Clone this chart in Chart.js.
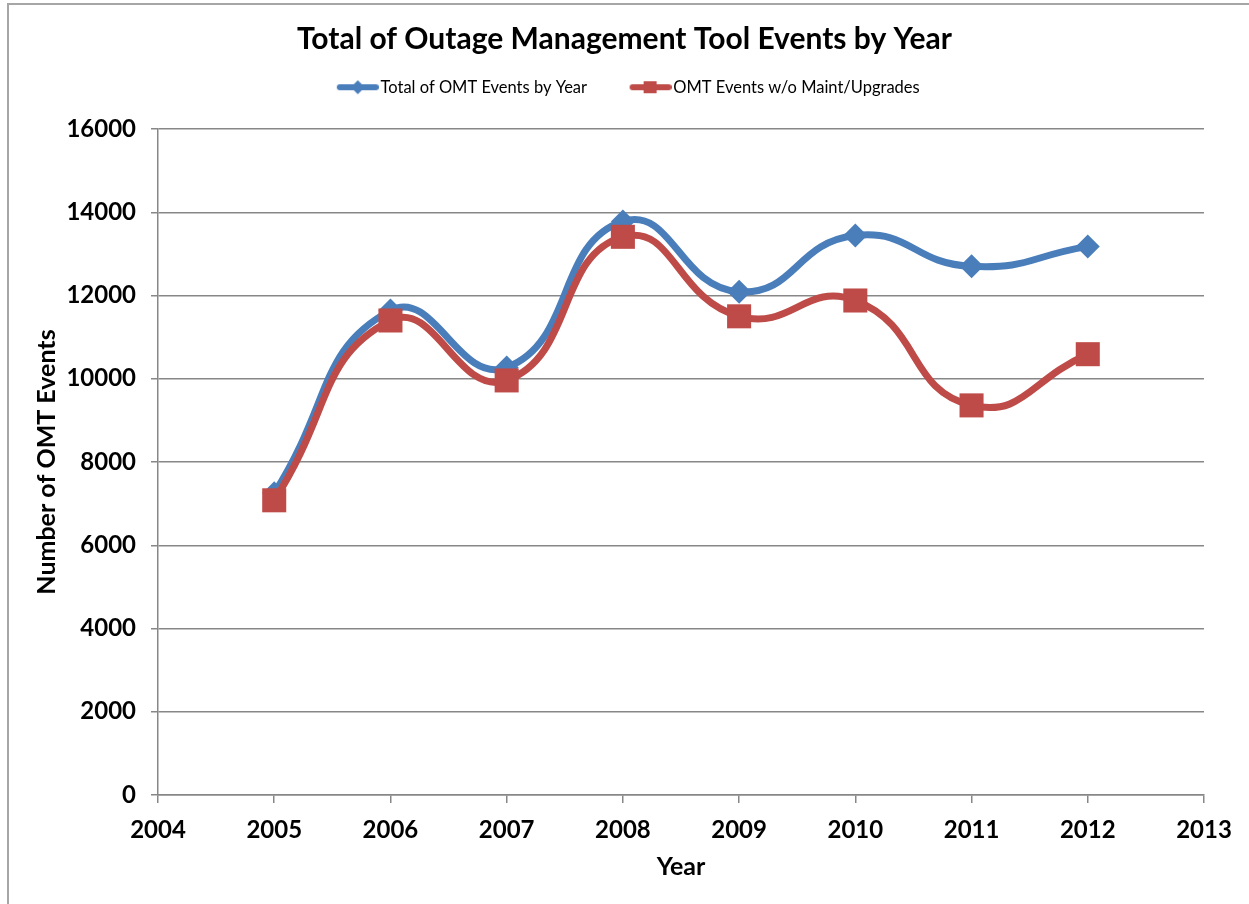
<!DOCTYPE html>
<html>
<head>
<meta charset="utf-8">
<script src="https://cdn.jsdelivr.net/npm/chart.js@4.4.1/dist/chart.umd.min.js"></script>
<style>
  html, body { margin: 0; padding: 0; background: #fff; overflow: hidden; }
  #wrap { position: relative; width: 1249px; height: 904px; }
  #frame { position: absolute; left: 7px; top: 3px; width: 1300px; height: 1000px;
           border: 2px solid #a6a6a6; box-sizing: border-box; pointer-events: none; }
</style>
</head>
<body>
<div id="wrap">
  <canvas id="omtChart" width="1249" height="904"></canvas>
  <div id="frame"></div>
</div>
<script>
var years = [2005, 2006, 2007, 2008, 2009, 2010, 2011, 2012];
var totalEvents = [7250, 11640, 10270, 13780, 12090, 13440, 12700, 13180];
var noMaintEvents = [7080, 11400, 9960, 13410, 11500, 11880, 9360, 10590];
var xTicks = [2004, 2005, 2006, 2007, 2008, 2009, 2010, 2011, 2012, 2013];
var yTicks = [0, 2000, 4000, 6000, 8000, 10000, 12000, 14000, 16000];

var blue = '#4a7ebb';
var red = '#be4b48';
var gridGrey = '#878787';
var fontFamily = 'Lato, "Liberation Sans", sans-serif';

// line+marker swatch like the Excel legend; the symbol sits in the right part
// of the image so it ends right before the label text
function legendSwatch(color, shape) {
  var c = document.createElement('canvas');
  c.width = 56; c.height = 16;
  var g = c.getContext('2d');
  g.strokeStyle = color; g.fillStyle = color; g.lineWidth = 6; g.lineCap = 'round';
  g.beginPath(); g.moveTo(17, 8); g.lineTo(53, 8); g.stroke();
  g.beginPath();
  if (shape === 'diamond') {
    g.moveTo(35, 1); g.lineTo(42, 8); g.lineTo(35, 15); g.lineTo(28, 8);
  } else {
    g.rect(28, 2, 13, 12);
  }
  g.fill();
  return c;
}
var swatches = [legendSwatch(blue, 'diamond'), legendSwatch(red, 'square')];

function toPoints(vals) {
  return years.map(function(yr, i) { return { x: yr, y: vals[i] }; });
}

var ctx = document.getElementById('omtChart').getContext('2d');
new Chart(ctx, {
  type: 'line',
  data: {
    datasets: [{
      label: 'Total of OMT Events by Year',
      data: toPoints(totalEvents),
      borderColor: blue,
      backgroundColor: blue,
      borderWidth: 7,
      pointStyle: 'rectRot',
      pointRadius: 12,
      pointBorderWidth: 0,
      tension: 0.5,
      order: 1
    }, {
      label: 'OMT Events w/o Maint/Upgrades',
      data: toPoints(noMaintEvents),
      borderColor: red,
      backgroundColor: red,
      borderWidth: 7,
      pointStyle: 'rect',
      pointRadius: 17,
      pointBorderWidth: 0,
      tension: 0.5,
      order: 0
    }]
  },
  options: {
    responsive: false,
    animation: false,
    events: [],
    layout: { padding: { left: 45, right: 45, top: 0, bottom: 0 } },
    plugins: {
      title: {
        display: true,
        text: 'Total of Outage Management Tool Events by Year',
        color: '#000',
        font: { family: fontFamily, size: 30, weight: 'bold', lineHeight: 0.3 },
        padding: { top: 35, bottom: 0 }
      },
      legend: {
        display: true,
        position: 'top',
        labels: {
          usePointStyle: true,
          pointStyleWidth: 43,
          padding: 35,
          color: '#000',
          font: { family: fontFamily, size: 16.5 },
          sort: function(a, b) { return a.datasetIndex - b.datasetIndex; },
          generateLabels: function(chart) {
            var items = Chart.defaults.plugins.legend.labels.generateLabels(chart);
            items.forEach(function(it) { it.pointStyle = swatches[it.datasetIndex]; it.lineWidth = 0; });
            return items;
          }
        }
      },
      // empty spacer between the legend and the plot area
      subtitle: {
        display: true,
        text: '',
        weight: 500,
        font: { size: 1, lineHeight: 1 },
        padding: { top: 22.5, bottom: 0 }
      },
      tooltip: { enabled: false }
    },
    scales: {
      x: {
        type: 'linear',
        min: 2004,
        max: 2013,
        afterFit: function(s) { s.height = 109; },
        afterBuildTicks: function(s) { s.ticks = xTicks.map(function(v) { return { value: v }; }); },
        ticks: {
          callback: function(v) { return String(v); },
          color: '#000',
          padding: 13,
          maxRotation: 0,
          font: { family: fontFamily, size: 24, weight: 'bold' }
        },
        grid: { drawOnChartArea: false, drawTicks: true, tickLength: 8, color: gridGrey, lineWidth: 1.5 },
        border: { color: gridGrey, width: 1.5 },
        title: {
          display: true,
          text: 'Year',
          color: '#000',
          font: { family: fontFamily, size: 25, weight: 'bold' },
          padding: { top: 0, bottom: 22 }
        }
      },
      y: {
        min: 0,
        max: 16000,
        afterFit: function(s) { s.width = 113; },
        afterBuildTicks: function(s) { s.ticks = yTicks.map(function(v) { return { value: v }; }); },
        ticks: {
          callback: function(v) { return String(v); },
          color: '#000',
          padding: 15,
          font: { family: fontFamily, size: 24, weight: 'bold' }
        },
        grid: { drawTicks: true, tickLength: 7, color: gridGrey, lineWidth: 1.5 },
        border: { color: gridGrey, width: 1.5 },
        title: {
          display: true,
          text: 'Number of OMT Events',
          color: '#000',
          font: { family: fontFamily, size: 25, weight: 'bold', lineHeight: 0.1 },
          padding: { top: 1, bottom: 0 }
        }
      }
    }
  }
});
</script>
</body>
</html>
